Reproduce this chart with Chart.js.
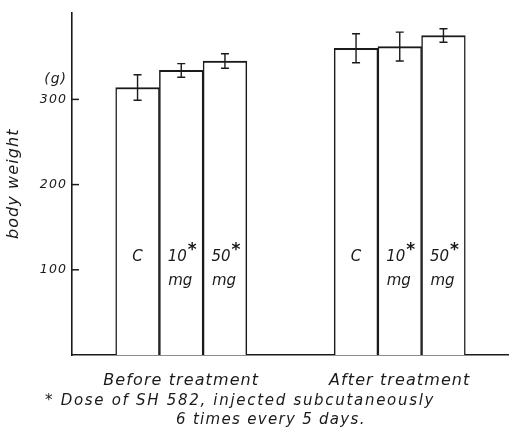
<!DOCTYPE html>
<html>
<head>
<meta charset="utf-8">
<script src="https://cdn.jsdelivr.net/npm/chart.js@4.4.1/dist/chart.umd.min.js"></script>
<style>
  html, body { margin: 0; padding: 0; background: #fff; }
  #wrap { width: 509px; height: 433px; }
</style>
</head>
<body>
<div id="wrap"><canvas id="bw"></canvas></div>
<script>
// values (grams)
const groups = ["Before treatment", "After treatment"];
const doses = ["C", "10", "50"];
const doseStar = [false, true, true];
const beforeMeans = [314, 334, 345];
const beforeErr = [15, 8, 8.5];
const afterMeans = [360, 362, 375];
const afterErr = [17, 17, 8];
const yTicks = [100, 200, 300];

const ink = "#1a1a1a";
const fontFam = "'DejaVu Sans', sans-serif";

// 10 slots: empty, 3 before, 2 empty, 3 after, empty
const values = [null, ...beforeMeans, null, null, ...afterMeans, null];
const errors = [null, ...beforeErr, null, null, ...afterErr, null];
const slotDose = [null, 0, 1, 2, null, null, 0, 1, 2, null];
const slotLabels = ["", "", groups[0], "", "", "", "", groups[1], "", ""];

// error bars, inner labels, tick marks, footnote
const extrasPlugin = {
    id: "extras",
    beforeDraw(chart) {
        // the old lettering is widely spaced
        chart.ctx.letterSpacing = "1.1px";
    },
    afterDatasetsDraw(chart) {
        const { ctx, scales, chartArea } = chart;
        const y = scales.y;
        const meta = chart.getDatasetMeta(0);
        ctx.save();
        ctx.strokeStyle = ink;
        ctx.lineWidth = 1.4;
        meta.data.forEach((bar, i) => {
            if (values[i] == null) return;
            const hi = y.getPixelForValue(values[i] + errors[i]);
            const lo = y.getPixelForValue(values[i] - errors[i]);
            ctx.beginPath();
            ctx.moveTo(bar.x, hi); ctx.lineTo(bar.x, lo);
            ctx.moveTo(bar.x - 4, hi); ctx.lineTo(bar.x + 4, hi);
            ctx.moveTo(bar.x - 4, lo); ctx.lineTo(bar.x + 4, lo);
            ctx.stroke();

            // dose label inside bar
            const d = slotDose[i];
            ctx.letterSpacing = "0px";
            ctx.fillStyle = ink;
            ctx.textAlign = "center";
            ctx.textBaseline = "middle";
            ctx.font = "italic 15px " + fontFam;
            const ly = y.getPixelForValue(115);
            if (!doseStar[d]) {
                ctx.fillText(doses[d], bar.x, ly);
            } else {
                ctx.fillText(doses[d], bar.x - 4, ly);
                ctx.font = "bold 17px " + fontFam;
                ctx.fillText("*", bar.x + 11, ly - 6);
                ctx.font = "italic 15px " + fontFam;
                ctx.fillText("mg", bar.x - 1, y.getPixelForValue(87));
            }
        });

        // inward tick marks on the y axis
        ctx.lineWidth = 1.5;
        y.ticks.forEach(t => {
            const py = y.getPixelForValue(t.value);
            ctx.beginPath();
            ctx.moveTo(chartArea.left, py);
            ctx.lineTo(chartArea.left + 7, py);
            ctx.stroke();
        });

        // unit above the 300 tick
        ctx.fillStyle = ink;
        ctx.textAlign = "right";
        ctx.textBaseline = "middle";
        ctx.letterSpacing = "1px";
        ctx.font = "italic 14px " + fontFam;
        ctx.fillText("(g)", chartArea.left - 5, y.getPixelForValue(300) - 20);

        // footnote
        ctx.textAlign = "left";
        ctx.letterSpacing = "1.7px";
        ctx.font = "italic 15px " + fontFam;
        ctx.fillText("* Dose of SH 582, injected subcutaneously", 45, 401);
        ctx.letterSpacing = "1.3px";
        ctx.fillText("6 times every 5 days.", 176, 420);
        ctx.restore();
    }
};

new Chart(document.getElementById("bw"), {
    type: "bar",
    data: {
        labels: slotLabels,
        datasets: [{
            data: values,
            backgroundColor: "#ffffff",
            borderColor: ink,
            borderWidth: { top: 2, left: 1.5, right: 1.5, bottom: 0 },
            borderSkipped: "bottom",
            barPercentage: 1,
            categoryPercentage: 1
        }]
    },
    options: {
        responsive: true,
        maintainAspectRatio: false,
        animation: false,
        layout: { padding: { top: 12, right: 0, left: 0, bottom: 0 } },
        plugins: { legend: { display: false }, tooltip: { enabled: false } },
        scales: {
            x: {
                grid: { display: false, drawTicks: false },
                border: { display: true, color: ink, width: 1.6 },
                ticks: {
                    autoSkip: false,
                    maxRotation: 0,
                    padding: 16,
                    color: ink,
                    font: { family: fontFam, size: 16, style: "italic" }
                },
                afterFit(scale) { scale.height = 78; }
            },
            y: {
                min: 0,
                max: 402,
                afterBuildTicks(scale) { scale.ticks = yTicks.map(v => ({ value: v })); },
                grid: { display: false, drawTicks: false },
                border: { display: true, color: ink, width: 1.6 },
                ticks: {
                    padding: 5,
                    color: ink,
                    font: { family: fontFam, size: 12.5, style: "italic" }
                },
                title: {
                    display: true,
                    text: "body weight",
                    color: ink,
                    padding: { bottom: 12 },
                    font: { family: fontFam, size: 16, style: "italic" }
                },
                afterFit(scale) { scale.width = 72; }
            }
        }
    },
    plugins: [extrasPlugin]
});
</script>
</body>
</html>
